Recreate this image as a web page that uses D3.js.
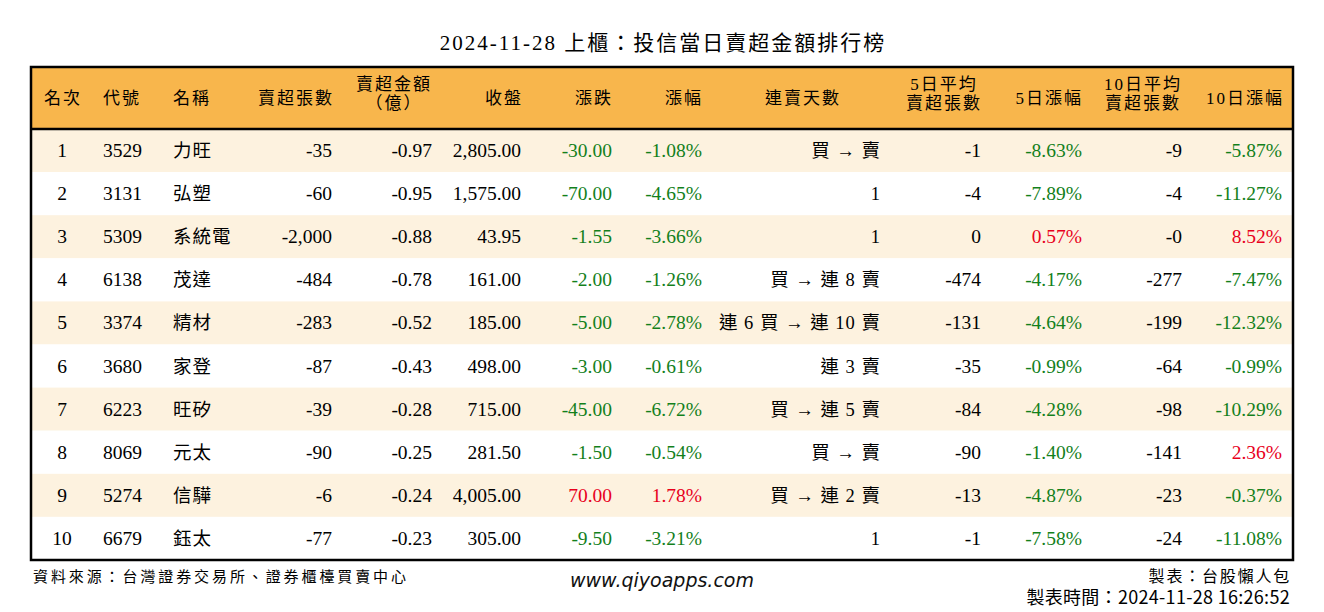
<!DOCTYPE html>
<html>
<head>
<meta charset="utf-8">
<script src="https://cdn.jsdelivr.net/npm/d3@7"></script>
<style>
body{margin:0;background:#fff;}
svg text{font-family:"Liberation Serif","Noto Sans CJK TC",serif;}
</style>
</head>
<body>
<svg id="chart" width="1324" height="612"></svg>
<script>
// 資料
var title = "2024-11-28 上櫃：投信當日賣超金額排行榜";
var ranks = [1,2,3,4,5,6,7,8,9,10];
var codes = ["3529","3131","5309","6138","3374","3680","6223","8069","5274","6679"];
var names = ["力旺","弘塑","系統電","茂達","精材","家登","旺矽","元太","信驊","鈺太"];
var sellLots = [-35,-60,-2000,-484,-283,-87,-39,-90,-6,-77];
var sellAmount = [-0.97,-0.95,-0.88,-0.78,-0.52,-0.43,-0.28,-0.25,-0.24,-0.23];
var closes = [2805,1575,43.95,161,185,498,715,281.5,4005,305];
var changes = [-30,-70,-1.55,-2,-5,-3,-45,-1.5,70,-9.5];
var changePct = [-1.08,-4.65,-3.66,-1.26,-2.78,-0.61,-6.72,-0.54,1.78,-3.21];
var streaks = ["買 → 賣","1","1","買 → 連 8 賣","連 6 買 → 連 10 賣","連 3 賣","買 → 連 5 賣","買 → 賣","買 → 連 2 賣","1"];
var avg5 = ["-1","-4","0","-474","-131","-35","-84","-90","-13","-1"];
var pct5 = [-8.63,-7.89,0.57,-4.17,-4.64,-0.99,-4.28,-1.40,-4.87,-7.58];
var avg10 = ["-9","-4","-0","-277","-199","-64","-98","-141","-23","-24"];
var pct10 = [-5.87,-11.27,8.52,-7.47,-12.32,-0.99,-10.29,2.36,-0.37,-11.08];
var headers = [["名次"],["代號"],["名稱"],["賣超張數"],["賣超金額","（億）"],["收盤"],["漲跌"],["漲幅"],["連賣天數"],["5日平均","賣超張數"],["5日漲幅"],["10日平均","賣超張數"],["10日漲幅"]];

var width = 1324, height = 612;
var tLeft = 31, tRight = 1293, tTop = 67, headH = 62, tBottom = 560;

var loc = d3.formatLocale({decimal:".", thousands:",", grouping:[3], currency:["",""], minus:"-"});
var fmt2 = loc.format(",.2f");
var fmtInt = loc.format(",");
var pctFmt = function(v){ return loc.format(".2f")(v) + "%"; };
var green = "#13801b", red = "#e8001c";
var upDown = function(v){ return v > 0 ? red : green; };

// 欄位: x 錨點, 對齊
var cols = [
	{x:62,   anchor:"middle", hx:63,  ha:"middle", text:function(i){return ranks[i];}},
	{x:103,  anchor:"start",  hx:103, ha:"start",  text:function(i){return codes[i];}},
	{x:173,  anchor:"start",  hx:173, ha:"start",  cjk:true, text:function(i){return names[i];}},
	{x:332,  anchor:"end",    hx:334, ha:"end",    text:function(i){return fmtInt(sellLots[i]);}},
	{x:432,  anchor:"end",    hx:394, ha:"middle", text:function(i){return fmt2(sellAmount[i]);}},
	{x:521,  anchor:"end",    hx:523, ha:"end",    text:function(i){return fmt2(closes[i]);}},
	{x:612,  anchor:"end",    hx:613, ha:"end",    text:function(i){return fmt2(changes[i]);}, color:function(i){return upDown(changes[i]);}},
	{x:702,  anchor:"end",    hx:703, ha:"end",    text:function(i){return pctFmt(changePct[i]);}, color:function(i){return upDown(changePct[i]);}},
	{x:881,  anchor:"end",    hx:803, ha:"middle", cjk:true, text:function(i){return streaks[i];}},
	{x:981,  anchor:"end",    hx:944, ha:"middle", text:function(i){return avg5[i];}},
	{x:1082, anchor:"end",    hx:1083,ha:"end",    text:function(i){return pctFmt(pct5[i]);}, color:function(i){return upDown(pct5[i]);}},
	{x:1182, anchor:"end",    hx:1143,ha:"middle", text:function(i){return avg10[i];}},
	{x:1282, anchor:"end",    hx:1284,ha:"end",    text:function(i){return pctFmt(pct10[i]);}, color:function(i){return upDown(pct10[i]);}}
];

var svg = d3.select("#chart");

svg.append("text")
	.attr("x", width/2 + 1).attr("y", 50)
	.attr("text-anchor","middle")
	.attr("font-size", 21)
	.attr("letter-spacing", 2)
	.attr("fill","#000")
	.text(title);

var y = d3.scaleBand()
	.domain(d3.range(ranks.length))
	.range([tTop + headH, tBottom])
	.padding(0);

// 表頭背景
svg.append("rect")
	.attr("x", tLeft).attr("y", tTop)
	.attr("width", tRight-tLeft).attr("height", headH)
	.attr("fill","#f8b64c");

// 列背景
svg.selectAll("rect.row")
	.data(d3.range(ranks.length))
	.enter().append("rect")
	.attr("class","row")
	.attr("x", tLeft).attr("y", function(d){return y(d);})
	.attr("width", tRight-tLeft).attr("height", y.bandwidth())
	.attr("fill", function(d){ return d % 2 === 0 ? "#fdf2df" : "#ffffff"; });

// 表頭文字
var hg = svg.append("g");
cols.forEach(function(c, j){
	var lines = headers[j];
	var t = hg.append("text")
		.attr("x", c.hx)
		.attr("text-anchor", c.ha)
		.attr("font-size", 17)
		.attr("letter-spacing", 2)
		.attr("fill","#000");
	if (lines.length === 1){
		t.attr("y", tTop + headH/2 + 6).text(lines[0]);
	} else {
		lines.forEach(function(l, k){
			t.append("tspan").attr("x", c.hx)
				.attr("y", tTop + 23 + k*19)
				.text(l);
		});
	}
});

// 資料列
var rows = svg.selectAll("g.datarow")
	.data(d3.range(ranks.length))
	.enter().append("g")
	.attr("class","datarow")
	.attr("transform", function(d){ return "translate(0," + (y(d) + y.bandwidth()/2 + 6.5) + ")"; });

cols.forEach(function(c){
	rows.append("text")
		.attr("x", c.x)
		.attr("text-anchor", c.anchor)
		.attr("font-size", c.cjk ? 18.5 : 19.5)
		.attr("letter-spacing", c.cjk ? 1 : 0)
		.attr("fill", function(i){ return c.color ? c.color(i) : "#000"; })
		.text(function(i){ return c.text(i); });
});

// 框線
svg.append("line")
	.attr("x1", tLeft).attr("x2", tRight)
	.attr("y1", tTop + headH).attr("y2", tTop + headH)
	.attr("stroke","#000").attr("stroke-width", 2.5);
svg.append("rect")
	.attr("x", tLeft).attr("y", tTop)
	.attr("width", tRight-tLeft).attr("height", tBottom-tTop)
	.attr("fill","none").attr("stroke","#000").attr("stroke-width", 2.5);

// 頁尾
svg.append("text")
	.attr("x", 33).attr("y", 582)
	.attr("font-size", 15)
	.attr("letter-spacing", 2.9)
	.text("資料來源：台灣證券交易所、證券櫃檯買賣中心");
svg.append("text")
	.attr("x", 662).attr("y", 587)
	.attr("text-anchor","middle")
	.attr("font-size", 19)
	.attr("font-style","italic")
	.style("font-family","'DejaVu Sans',sans-serif")
	.attr("fill","#111")
	.text("www.qiyoapps.com");
svg.append("text")
	.attr("x", 1291).attr("y", 582)
	.attr("text-anchor","end")
	.attr("font-size", 16)
	.attr("letter-spacing", 1.8)
	.text("製表：台股懶人包");
svg.append("text")
	.attr("x", 1290).attr("y", 604)
	.attr("text-anchor","end")
	.attr("font-size", 18)
	.attr("letter-spacing", 0.3)
	.style("font-family","'Liberation Sans Narrow','Noto Sans CJK TC',sans-serif")
	.text("製表時間：2024-11-28 16:26:52");
</script>
</body>
</html>
